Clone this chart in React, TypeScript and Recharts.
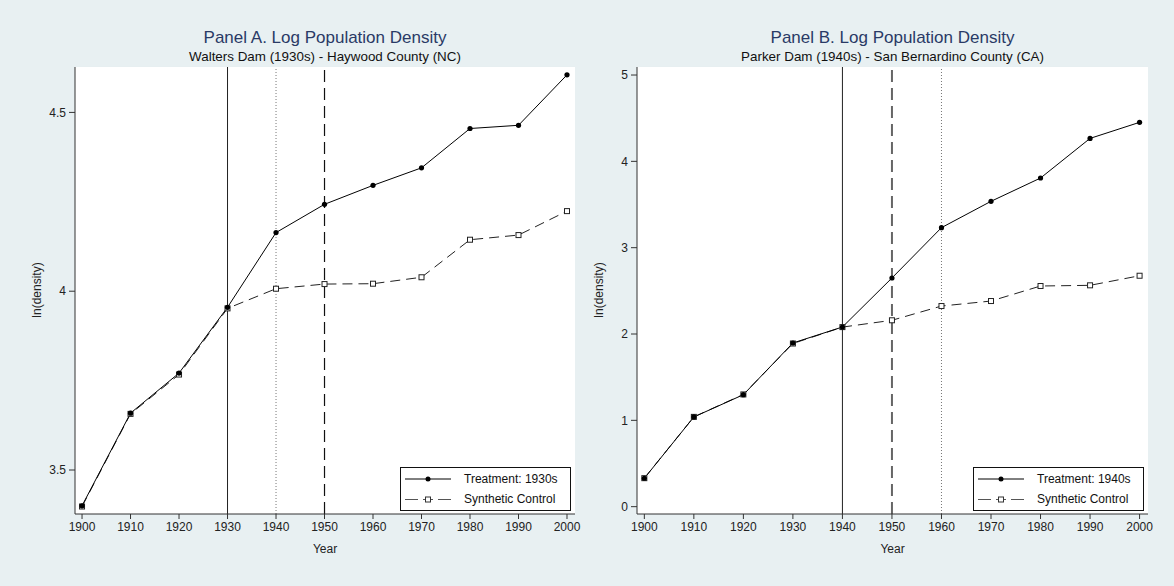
import React from "react";
import {
    CartesianGrid,
    Legend,
    Line,
    LineChart,
    ReferenceLine,
    XAxis,
    YAxis,
} from "recharts";

const FONT = '"Liberation Sans", Arial, Helvetica, sans-serif';

const years = [1900, 1910, 1920, 1930, 1940, 1950, 1960, 1970, 1980, 1990, 2000];

// Panel A: Walters Dam, Haywood County (NC)
const treatedA = [3.4, 3.659, 3.771, 3.955, 4.164, 4.243, 4.296, 4.345, 4.455, 4.464, 4.605];
const syntheticA = [3.398, 3.657, 3.767, 3.952, 4.007, 4.02, 4.021, 4.039, 4.144, 4.157, 4.224];
const yTicksA = [3.5, 4, 4.5];

// Panel B: Parker Dam, San Bernardino County (CA)
const treatedB = [0.329, 1.039, 1.297, 1.896, 2.081, 2.649, 3.232, 3.537, 3.807, 4.266, 4.452];
const syntheticB = [0.33, 1.04, 1.3, 1.89, 2.08, 2.159, 2.324, 2.382, 2.556, 2.564, 2.675];
const yTicksB = [0, 1, 2, 3, 4, 5];

type RefLine = { x: number; kind: "solid" | "dotted" | "dashed" | "dashedGray" };

type PanelProps = {
    left: number;
    title: string;
    subtitle: string;
    treated: number[];
    synthetic: number[];
    yDomain: [number, number];
    yTicks: number[];
    xDomain: [number, number];
    yAxisWidth: number;
    rightMargin: number;
    refLines: RefLine[];
    legendLabel: string;
    legendLeft: number;
};

function refStyle(kind: RefLine["kind"]) {
    if (kind === "solid") return { stroke: "#222", strokeWidth: 1 };
    if (kind === "dotted") return { stroke: "#777", strokeWidth: 1, strokeDasharray: "1 2" };
    if (kind === "dashed") return { stroke: "#111", strokeWidth: 1.2, strokeDasharray: "12 6" };
    return { stroke: "#666", strokeWidth: 2, strokeDasharray: "12 6" };
}

function SquareDot(props: any) {
    const { cx, cy, index } = props;
    if (cx == null || cy == null) return null;
    return (
        <rect
            key={`sq-${index}`}
            x={cx - 2.5}
            y={cy - 2.5}
            width={5}
            height={5}
            fill="#fff"
            stroke="#222"
            strokeWidth={1}
        />
    );
}

function LegendBox({ label }: { label: string }) {
    return (
        <div
            style={{
                width: 171,
                height: 44,
                boxSizing: "border-box",
                border: "1px solid #111",
                background: "#fff",
                position: "relative",
                fontFamily: FONT,
                fontSize: 12,
                color: "#111",
            }}
        >
            <svg width={60} height={42} style={{ position: "absolute", left: 0, top: 0 }}>
                <line x1={4} x2={50} y1={11} y2={11} stroke="#000" strokeWidth={1} />
                <circle cx={27} cy={11} r={2.5} fill="#000" />
                <line x1={4} x2={17} y1={31.5} y2={31.5} stroke="#555" strokeWidth={1} />
                <line x1={22} x2={32} y1={31.5} y2={31.5} stroke="#555" strokeWidth={1} />
                <line x1={37} x2={50} y1={31.5} y2={31.5} stroke="#555" strokeWidth={1} />
                <rect x={24.5} y={29} width={5} height={5} fill="#fff" stroke="#333" />
            </svg>
            <div style={{ position: "absolute", left: 63, top: 4, lineHeight: "14px", whiteSpace: "nowrap" }}>
                {label}
            </div>
            <div style={{ position: "absolute", left: 63, top: 24, lineHeight: "14px", whiteSpace: "nowrap" }}>
                Synthetic Control
            </div>
        </div>
    );
}

function Panel({
    left,
    title,
    subtitle,
    treated,
    synthetic,
    yDomain,
    yTicks,
    xDomain,
    yAxisWidth,
    rightMargin,
    refLines,
    legendLabel,
    legendLeft,
}: PanelProps) {
    const data = years.map((year, i) => ({
        year,
        treated: treated[i],
        synthetic: synthetic[i],
    }));
    const plotCenter = (yAxisWidth + (587 - rightMargin)) / 2;

    return (
        <div style={{ position: "absolute", left, top: 0, width: 587, height: 586 }}>
            <LineChart
                width={587}
                height={586}
                data={data}
                margin={{ top: 67, right: rightMargin, bottom: 0, left: 0 }}
                style={{ fontFamily: FONT }}
            >
                <rect x={yAxisWidth} y={67} width={587 - rightMargin - yAxisWidth} height={447} fill="#fff" />
                <CartesianGrid vertical={false} stroke="#e6eef1" strokeWidth={1} />
                <XAxis
                    dataKey="year"
                    type="number"
                    domain={xDomain}
                    ticks={years}
                    interval={0}
                    allowDataOverflow
                    height={72}
                    stroke="#333"
                    tickSize={5}
                    tickMargin={3}
                    tick={{ fontSize: 12, fill: "#222", fontFamily: FONT }}
                />
                <YAxis
                    type="number"
                    domain={yDomain}
                    ticks={yTicks}
                    interval={0}
                    allowDataOverflow
                    width={yAxisWidth}
                    stroke="#333"
                    tickSize={6}
                    tickMargin={3}
                    tick={{ fontSize: 12, fill: "#222", fontFamily: FONT }}
                />
                {refLines.map((r) => (
                    <ReferenceLine key={r.x} x={r.x} {...refStyle(r.kind)} />
                ))}
                <Line
                    dataKey="synthetic"
                    type="linear"
                    stroke="#222"
                    strokeWidth={1}
                    strokeDasharray="10 6"
                    dot={SquareDot}
                    activeDot={false}
                    isAnimationActive={false}
                />
                <Line
                    dataKey="treated"
                    type="linear"
                    stroke="#000"
                    strokeWidth={1}
                    dot={{ r: 2.6, fill: "#000", stroke: "#000", strokeWidth: 0 }}
                    activeDot={false}
                    isAnimationActive={false}
                />
                <Legend
                    layout="vertical"
                    align="center"
                    verticalAlign="middle"
                    content={() => <LegendBox label={legendLabel} />}
                    wrapperStyle={{ left: legendLeft, top: 467, width: 171, height: 44 }}
                />
                <text x={plotCenter} y={43} textAnchor="middle" fontSize={17} fill="#2a3a66" fontFamily={FONT}>
                    {title}
                </text>
                <text x={plotCenter} y={61} textAnchor="middle" fontSize={13.4} fill="#111" fontFamily={FONT}>
                    {subtitle}
                </text>
                <text
                    x={yAxisWidth - 38}
                    y={290}
                    transform={`rotate(-90, ${yAxisWidth - 38}, 290)`}
                    textAnchor="middle"
                    dominantBaseline="central"
                    fontSize={12}
                    fill="#222"
                    fontFamily={FONT}
                >
                    ln(density)
                </text>
                <text
                    x={plotCenter}
                    y={549}
                    textAnchor="middle"
                    dominantBaseline="central"
                    fontSize={12}
                    fill="#222"
                    fontFamily={FONT}
                >
                    Year
                </text>
            </LineChart>
        </div>
    );
}

export default function App() {
    return (
        <div
            style={{
                position: "absolute",
                left: 0,
                top: 0,
                width: 1174,
                height: 586,
                background: "#e8f0f2",
                overflow: "hidden",
                fontFamily: FONT,
            }}
        >
            <Panel
                left={0}
                title="Panel A. Log Population Density"
                subtitle="Walters Dam (1930s) - Haywood County (NC)"
                treated={treatedA}
                synthetic={syntheticA}
                yDomain={[3.377, 4.627]}
                yTicks={yTicksA}
                xDomain={[1898.55, 2001.65]}
                yAxisWidth={75}
                rightMargin={12}
                refLines={[
                    { x: 1930, kind: "solid" },
                    { x: 1940, kind: "dotted" },
                    { x: 1950, kind: "dashed" },
                ]}
                legendLabel="Treatment: 1930s"
                legendLeft={400}
            />
            <Panel
                left={587}
                title="Panel B. Log Population Density"
                subtitle="Parker Dam (1940s) - San Bernardino County (CA)"
                treated={treatedB}
                synthetic={syntheticB}
                yDomain={[-0.085, 5.093]}
                yTicks={yTicksB}
                xDomain={[1898.52, 2001.7]}
                yAxisWidth={50}
                rightMargin={26}
                refLines={[
                    { x: 1940, kind: "solid" },
                    { x: 1950, kind: "dashedGray" },
                    { x: 1960, kind: "dotted" },
                ]}
                legendLabel="Treatment: 1940s"
                legendLeft={386}
            />
        </div>
    );
}
